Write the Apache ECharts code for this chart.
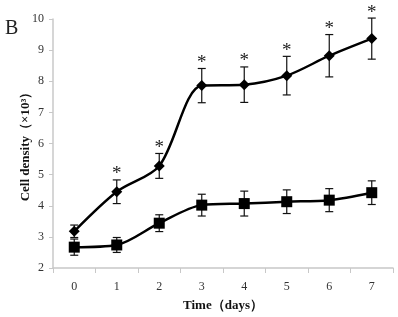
<!DOCTYPE html>
<html>
<head>
<meta charset="utf-8">
<script src="https://cdn.jsdelivr.net/npm/echarts@6/dist/echarts.min.js"></script>
<style>
  html, body { margin: 0; padding: 0; background: #fff; }
  #main { width: 398px; height: 317px; }
</style>
</head>
<body>
<div id="main"></div>
<script>
// data
var days = ['0', '1', '2', '3', '4', '5', '6', '7']
var treated = [3.18, 4.45, 5.28, 7.86, 7.89, 8.18, 8.82, 9.37]
var treatedErr = [0.2, 0.38, 0.4, 0.55, 0.57, 0.62, 0.68, 0.66]
var control = [2.67, 2.74, 3.44, 4.02, 4.07, 4.13, 4.18, 4.42]
var controlErr = [0.26, 0.24, 0.27, 0.35, 0.4, 0.38, 0.37, 0.38]
var starred = [false, true, true, true, true, true, true, true]

var serif = '"Liberation Serif", "DejaVu Serif", serif'

function errData (vals, errs) {
  return vals.map(function (v, i) { return [i, v - errs[i], v + errs[i], starred[i] ? 1 : 0] })
}

function errRender (withStar) {
  return function (params, api) {
    var lo = api.coord([api.value(0), api.value(1)])
    var hi = api.coord([api.value(0), api.value(2)])
    var cap = 4
    var style = { stroke: '#111', lineWidth: 1.2 }
    var kids = [
      { type: 'line', shape: { x1: lo[0], y1: lo[1], x2: hi[0], y2: hi[1] }, style: style },
      { type: 'line', shape: { x1: lo[0] - cap, y1: lo[1], x2: lo[0] + cap, y2: lo[1] }, style: style },
      { type: 'line', shape: { x1: hi[0] - cap, y1: hi[1], x2: hi[0] + cap, y2: hi[1] }, style: style }
    ]
    if (withStar && api.value(3)) {
      kids.push({
        type: 'text',
        style: {
          x: hi[0], y: hi[1] + 4, text: '*', fill: '#222',
          font: '19px ' + serif, align: 'center', verticalAlign: 'bottom'
        }
      })
    }
    return { type: 'group', children: kids }
  }
}

var myChart = echarts.init(document.getElementById('main'))
var option = {
  animation: false,
  backgroundColor: '#fff',
  graphic: [{
    type: 'text', left: 5, top: 19,
    style: { text: 'B', font: '20px ' + serif, fill: '#222' }
  }],
  grid: { left: 53, right: 5, top: 19, bottom: 47 },
  xAxis: {
    type: 'category',
    data: days,
    boundaryGap: true,
    name: 'Time（days）',
    nameLocation: 'middle',
    nameGap: 31,
    nameMoveOverlap: false,
    nameTextStyle: { fontFamily: serif, fontWeight: 'bold', fontSize: 13, color: '#111' },
    axisLine: { lineStyle: { color: '#c8c8c8', width: 1.5 } },
    axisTick: { show: true, length: 5, lineStyle: { color: '#c8c8c8' } },
    axisLabel: { fontFamily: serif, fontSize: 12, color: '#333', margin: 13 }
  },
  yAxis: {
    type: 'value',
    min: 2,
    max: 10,
    interval: 1,
    name: 'Cell density（×10³）',
    nameLocation: 'middle',
    nameGap: 21,
    nameMoveOverlap: false,
    nameTextStyle: { fontFamily: serif, fontWeight: 'bold', fontSize: 13, color: '#111' },
    axisLine: { show: true, lineStyle: { color: '#c8c8c8', width: 1.5 } },
    axisTick: { show: true, length: 4, lineStyle: { color: '#c8c8c8' } },
    axisLabel: { fontFamily: serif, fontSize: 12, color: '#333', margin: 9 },
    splitLine: { show: false }
  },
  series: [
    {
      name: 'treated',
      type: 'line',
      data: treated,
      smooth: 0.3,
      symbol: 'diamond',
      symbolSize: 11,
      itemStyle: { color: '#000' },
      lineStyle: { color: '#000', width: 2.5 },
      z: 3
    },
    {
      name: 'control',
      type: 'line',
      data: control,
      smooth: 0.3,
      symbol: 'rect',
      symbolSize: 11,
      itemStyle: { color: '#000' },
      lineStyle: { color: '#000', width: 2.5 },
      z: 3
    },
    {
      type: 'custom',
      renderItem: errRender(true),
      data: errData(treated, treatedErr),
      encode: { x: 0, y: [1, 2] },
      z: 2
    },
    {
      type: 'custom',
      renderItem: errRender(false),
      data: errData(control, controlErr),
      encode: { x: 0, y: [1, 2] },
      z: 2
    }
  ]
}
myChart.setOption(option)
</script>
</body>
</html>
